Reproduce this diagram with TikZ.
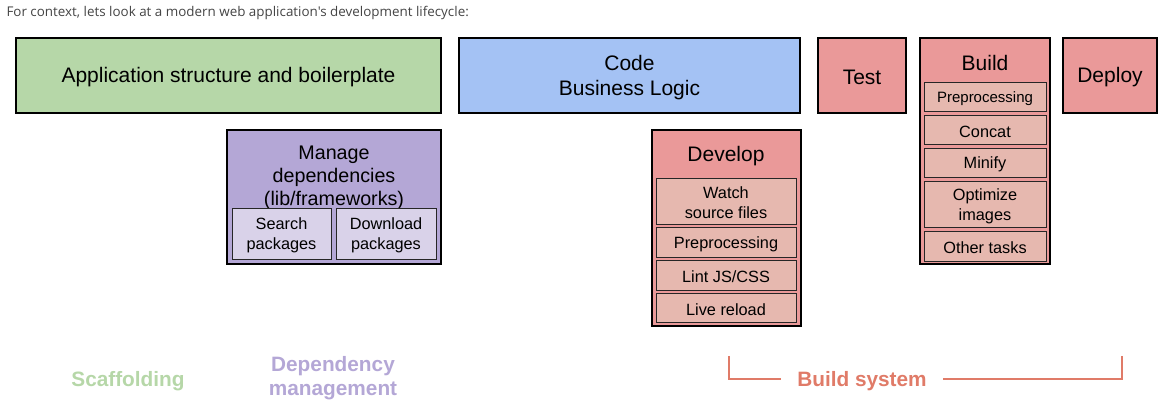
\documentclass[tikz,border=0pt]{standalone}
\usepackage{fontspec}
\setmainfont{Liberation Sans}
\newfontfamily\headfont{Open Sans}
\usepackage{tikz}
\usetikzlibrary{positioning, calc}

\definecolor{scaffgreen}{HTML}{B6D7A8}
\definecolor{codeblue}{HTML}{A4C2F4}
\definecolor{buildred}{HTML}{EA9999}
\definecolor{subred}{HTML}{E6B8AF}
\definecolor{deppurple}{HTML}{B4A7D6}
\definecolor{subpurple}{HTML}{D9D2E9}
\definecolor{labelred}{HTML}{E07B68}
\definecolor{headgray}{HTML}{444444}

\begin{document}
\begin{tikzpicture}[x=1pt, y=-1pt,
		stage/.style = {draw=black, line width=2pt},
		task/.style = {draw=black!85, line width=1pt},
		big/.style = {font=\fontsize{21}{24.5}\selectfont, align=center, yshift=-2pt},
		small/.style = {font=\fontsize{16.3}{20}\selectfont, align=center, yshift=-1pt},
		tag/.style = {font=\bfseries\fontsize{20.8}{24}\selectfont, align=center, yshift=-2pt},
		bracket/.style = {draw=labelred, line width=1.6pt}]
			\useasboundingbox (0,0) rectangle (1173,411);
			\node[anchor=west, text=headgray, font=\headfont\fontsize{13.4}{16}\selectfont] (head) at (3,13) {For context, lets look at a modern web application's development lifecycle:};

			% top row
			\draw[stage, fill=scaffgreen] (16,38) rectangle (441,113) node[pos=.5, big] (app) {Application structure and boilerplate};
			\draw[stage, fill=codeblue] (459,38) rectangle (800,113) node[pos=.5, big] (code) {Code\\Business Logic};
			\draw[stage, fill=buildred] (818,38) rectangle (906,113) node[pos=.5, big] (test) {Test};
			\draw[stage, fill=buildred] (920,38) rectangle (1050,264);
			\node[big] (build) at (985,61) {Build};
			\draw[stage, fill=buildred] (1063,38) rectangle (1157,113) node[pos=.5, big] (deploy) {Deploy};

			% build tasks
			\draw[task, fill=subred] (924,83) rectangle (1046,112) node[pos=.5, small, font=\fontsize{15}{18}\selectfont] (bpre) {Preprocessing};
			\draw[task, fill=subred] (924,116) rectangle (1046,145) node[pos=.5, small] (concat) {Concat};
			\draw[task, fill=subred] (924,149) rectangle (1046,178) node[pos=.5, small] (minify) {Minify};
			\draw[task, fill=subred] (924,182) rectangle (1046,228) node[pos=.5, small] (optim) {Optimize\\images};
			\draw[task, fill=subred] (924,232) rectangle (1046,262) node[pos=.5, small] (other) {Other tasks};

			% dependencies
			\draw[stage, fill=deppurple] (227,130) rectangle (441,264);
			\node[big, font=\fontsize{19.7}{23}\selectfont] (manage) at (334,176) {Manage\\dependencies\\(lib/frameworks)};
			\draw[task, fill=subpurple] (232,209) rectangle (331,260) node[pos=.5, small] (search) {Search\\packages};
			\draw[task, fill=subpurple] (336,209) rectangle (436,260) node[pos=.5, small] (download) {Download\\packages};

			% develop
			\draw[stage, fill=buildred] (652,130) rectangle (801,326);
			\node[big] (develop) at (726,154) {Develop};
			\draw[task, fill=subred] (656,179) rectangle (796,225) node[pos=.5, small] (watch) {Watch\\source files};
			\draw[task, fill=subred] (656,228) rectangle (796,258) node[pos=.5, small] (dpre) {Preprocessing};
			\draw[task, fill=subred] (656,261) rectangle (796,291) node[pos=.5, small] (lint) {Lint JS/CSS};
			\draw[task, fill=subred] (656,294) rectangle (796,323) node[pos=.5, small] (reload) {Live reload};

			% bottom labels
			\node[tag, text=scaffgreen] (scaff) at (128,379) {Scaffolding};
			\node[tag, text=deppurple] (depman) at (333,376) {Dependency\\management};
			\node[tag, text=labelred] (bsys) at (862,379) {Build system};
			\coordinate (bl) at (729,356);
			\coordinate (br) at (1122,356);
			\draw[bracket] (bl) |- ([xshift=-13pt, yshift=2pt]bsys.west);
			\draw[bracket] (br) |- ([xshift=13pt, yshift=2pt]bsys.east);
		\end{tikzpicture}
\end{document}
